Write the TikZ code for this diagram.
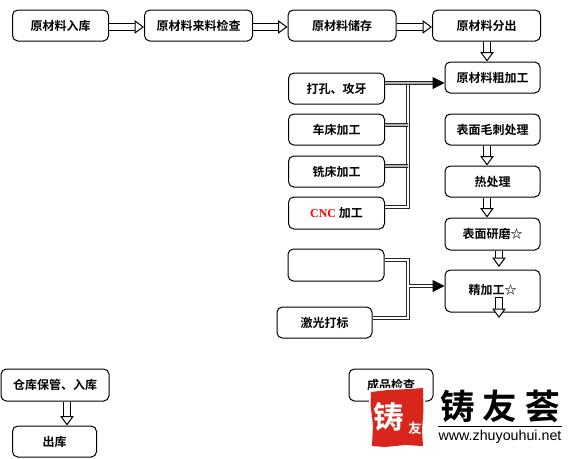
\documentclass[tikz,border=0pt]{standalone}
\usepackage{fontspec}
\setmainfont{Noto Sans CJK SC}[BoldFont={Noto Sans CJK SC Bold}]
\newfontfamily\latinserif{Liberation Serif}
\newfontfamily\latinsans{Liberation Sans}
\usetikzlibrary{arrows.meta,calc}
\definecolor{logored}{HTML}{D9261C}
\newcommand\tx[1]{\raisebox{-1pt}{#1}}
\tikzset{
  x=0.75pt,y=-0.75pt,
  box/.style={draw=black,line width=0.75pt,rounded corners=4pt,inner sep=0pt,fill=white,
    font=\bfseries\fontsize{9}{9}\selectfont,text=black},
  bw/.style={minimum width=#1*0.75pt},
  bh/.style={minimum height=#1*0.75pt},
  hollow/.style={draw=black,line width=0.75pt,double=white,double distance=4pt,
    -{Triangle[open,fill=white,length=7pt,width=10pt]}},
  bundle/.style={draw=black!85,line width=0.9pt,double=white,double distance=1pt},
  solidhead/.style={-{Triangle[length=9pt,width=9pt,fill=black]}},
  logotext/.style={inner sep=0pt,text=white,font=\bfseries},
}
\begin{document}
\begin{tikzpicture}
\useasboundingbox (0,0) rectangle (578,458);
\fill[white] (0,0) rectangle (578,458);

% top row
\node[box,bw=96,bh=31] (a1) at (60.5,25.5) {\raisebox{-2pt}{原材料入库}};
\node[box,bw=108,bh=31] (a2) at (198.5,25.5) {\raisebox{-2pt}{原材料来料检查}};
\node[box,bw=108,bh=31] (a3) at (342,25.5) {\raisebox{-2pt}{原材料储存}};
\node[box,bw=108,bh=31] (a4) at (486.5,25.5) {\raisebox{-2pt}{原材料分出}};
% right column
\node[box,bw=95,bh=31] (cu) at (492.5,77.5) {\tx{原材料粗加工}};
\node[box,bw=95,bh=31] (mao) at (492.5,129.5) {\tx{表面毛刺处理}};
\node[box,bw=95,bh=31] (re) at (492.5,181.5) {\tx{热处理}};
\node[box,bw=95,bh=32] (yan) at (492.5,234) {\tx{表面研磨☆}};
\node[box,bw=95,bh=42] (jing) at (492.5,291) {\raisebox{2pt}{精加工☆}};
% middle column
\node[box,bw=96,bh=31] (da) at (336.5,88.5) {\tx{打孔、攻牙}};
\node[box,bw=96,bh=31] (che) at (336.5,129.5) {\tx{车床加工}};
\node[box,bw=96,bh=31] (xi) at (336.5,171.5) {\tx{铣床加工}};
\node[box,bw=96,bh=32] (cnc) at (336.5,213) {\tx{{\latinserif\color{red}CNC} 加工}};
\node[box,bw=96,bh=32] (blank) at (336,265) {};
\node[box,bw=95,bh=31] (ji) at (324.5,322.5) {\tx{激光打标}};
% bottom
\node[box,bw=84,bh=32] (cheng) at (391,385) {\raisebox{-1pt}{成品检查}};
\node[box,bw=108,bh=32] (cang) at (55,385) {\tx{仓库保管、入库}};
\node[box,bw=84,bh=31] (chu) at (54.5,441.5) {\tx{出库}};

% hollow arrows
\draw[hollow] ([yshift=-1.1pt]a1.east) -- ([yshift=-1.1pt]a2.west);
\draw[hollow] ([yshift=-1.1pt]a2.east) -- ([yshift=-1.1pt]a3.west);
\draw[hollow] ([yshift=-1.1pt]a3.east) -- ([yshift=-1.1pt]a4.west);
\draw[hollow] (a4.south -| 487,0) -- (cu.north -| 487,0);
\draw[hollow] (mao.south -| 487,0) -- (re.north -| 487,0);
\draw[hollow] (re.south -| 487,0) -- (yan.north -| 487,0);
\coordinate (yanend) at (499,267);
\draw[hollow] (yan.south -| yanend) -- (yanend);
\coordinate (jingstart) at (499,297);
\coordinate (jingend) at (499,318);
\draw[hollow] (jingstart) -- (jingend);
\draw[black,line width=0.75pt] ($(jingstart)+(-4,0)$) -- ($(jingstart)+(4,0)$);
\draw[hollow] (cang.south -| 67,0) -- (chu.north -| 67,0);

% upper bundle
\coordinate (ju) at (408,83);
\coordinate (jd) at (408,207);
\draw[bundle] ([yshift=4.5pt]cnc.east) -- (jd) -- (ju);
\draw[bundle] ([yshift=3.4pt]che.east) -- (ju |- 0,125);
\draw[bundle] ([yshift=4.1pt]xi.east) -- (ju |- 0,166);
\draw[bundle] ([yshift=4.1pt]da.east) -- (ju);
\draw[bundle] (ju) -- ($(ju)!0.9!(ju -| cu.west)$);
\draw[solidhead,draw=black,line width=0.75pt] ($(ju)!0.7!(ju -| cu.west)$) -- (ju -| cu.west);

% lower bundle
\coordinate (lu) at (408,260);
\coordinate (ld) at (408,318);
\coordinate (lm) at (409,286);
\draw[bundle] ([yshift=3.75pt]blank.east) -- (lu) -- (ld) -- (ld -| ji.east);
\draw[bundle] (lm) -- ($(lm)!0.9!(lm -| jing.west)$);
\draw[solidhead,draw=black,line width=0.75pt] ($(lm)!0.7!(lm -| jing.west)$) -- (lm -| jing.west);

% logo
\fill[white] (369,388) rectangle (425,449);
\fill[logored]
  (371,392) -- (388,390) -- (410,389) -- (423,388) -- (423.5,410) -- (422,430) -- (423,446)
  -- (405,445) -- (385,447) -- (372,446) -- (373,425) -- (370.5,405) -- cycle;
\node[logotext,font=\bfseries\fontsize{23}{23}\selectfont] (lg1) at (389,417) {铸};
\node[logotext,font=\bfseries\fontsize{10}{10}\selectfont] (lg2) at (415,428) {友};
\node[inner sep=0pt,font=\bfseries\fontsize{26}{26}\selectfont,text=black] (brand) at (500,406)
  {铸\kern6pt友\kern6pt荟};
\coordinate (ruleL) at (438,426);
\coordinate (ruleR) at (562,426);
\draw[black,line width=0.75pt] (ruleL) -- (ruleR);
\node[inner sep=0pt,font=\latinsans\fontsize{10.7}{10.7}\selectfont,text=black] (url) at (500,437) {www.zhuyouhui.net};
\end{tikzpicture}
\end{document}
